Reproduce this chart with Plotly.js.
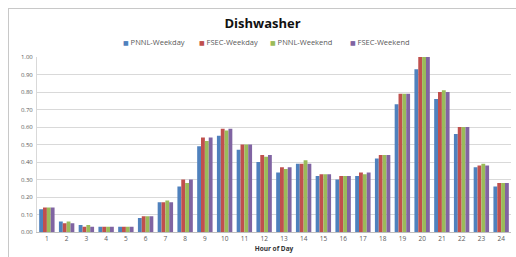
<!DOCTYPE html>
<html><head><meta charset="utf-8">
<script src="https://cdn.plot.ly/plotly-3.0.1.min.js"></script>
<style>
html,body{margin:0;padding:0;background:#fff;width:516px;height:257px;overflow:hidden}
#wrap{position:absolute;left:8px;top:8px;width:507px;height:249px;border-left:1px solid #c8c8c8;border-top:1px solid #c8c8c8}
#chart{width:507px;height:249px}
</style></head>
<body><div id="wrap"><div id="chart"></div></div>
<script>
const hours = ['1','2','3','4','5','6','7','8','9','10','11','12','13','14','15','16','17','18','19','20','21','22','23','24'];
const seriesNames = ['PNNL-Weekday','FSEC-Weekday','PNNL-Weekend','FSEC-Weekend'];
const pnnlWeekday = [0.13,0.06,0.04,0.03,0.03,0.08,0.17,0.26,0.49,0.55,0.47,0.40,0.34,0.39,0.32,0.30,0.32,0.42,0.73,0.93,0.76,0.56,0.37,0.26];
const fsecWeekday = [0.14,0.05,0.03,0.03,0.03,0.09,0.17,0.30,0.54,0.59,0.50,0.44,0.37,0.39,0.33,0.32,0.34,0.44,0.79,1.00,0.80,0.60,0.38,0.28];
const pnnlWeekend = [0.14,0.06,0.04,0.03,0.03,0.09,0.18,0.28,0.52,0.58,0.50,0.43,0.36,0.41,0.33,0.32,0.33,0.44,0.79,1.00,0.81,0.60,0.39,0.28];
const fsecWeekend = [0.14,0.05,0.03,0.03,0.03,0.09,0.17,0.30,0.54,0.59,0.50,0.44,0.37,0.39,0.33,0.32,0.34,0.44,0.79,1.00,0.80,0.60,0.38,0.28];
const yTicks = [0,0.1,0.2,0.3,0.4,0.5,0.6,0.7,0.8,0.9,1.0];
const colors = ['#4F81BD','#C0504D','#9BBB59','#8064A2'];
const allSeries = [pnnlWeekday,fsecWeekday,pnnlWeekend,fsecWeekend];
const legendX = [0.177,0.338,0.487,0.656];

const traces = allSeries.map((v,i)=>({
  type:'bar', x:hours, y:v, name:seriesNames[i],
  marker:{color:colors[i]}
}));

const font = "'Open Sans', 'Liberation Sans', sans-serif";
const annotations = seriesNames.map((n,i)=>({
  xref:'paper', yref:'paper', x:legendX[i], y:1.086, xanchor:'left', yanchor:'middle',
  showarrow:false,
  text:'<span style="color:'+colors[i]+';font-size:6px;font-family:DejaVu Sans">■</span> '+n,
  font:{family:font, size:7.5, color:'#595959'}
}));

const layout = {
  width:507, height:249,
  margin:{l:28,r:5,t:48,b:26},
  paper_bgcolor:'#fff', plot_bgcolor:'#fff',
  font:{family:font, color:'#595959', size:6},
  title:{text:'<b>Dishwasher</b>', font:{family:font, size:13, color:'#111'}, x:0.5, xanchor:'center', y:0.94, yanchor:'middle'},
  barmode:'group', bargap:0.22, bargroupgap:0,
  showlegend:false,
  annotations:annotations,
  xaxis:{type:'category', tickfont:{size:6.5,color:'#595959'}, ticks:'', 
    showline:true, linecolor:'#bfbfbf', linewidth:1, showgrid:false,
    title:{text:'<b>Hour of Day</b>', font:{family:font,size:6.5,color:'#333'}, standoff:4}},
  yaxis:{range:[0,1.0], tickvals:yTicks, tickformat:'.2f', tickfont:{size:6,color:'#595959'},
    showgrid:true, gridcolor:'#d9d9d9', gridwidth:1, zeroline:false,
    showline:true, linecolor:'#d9d9d9', ticks:'', ticklabelstandoff:2}
};
Plotly.newPlot('chart', traces, layout, {staticPlot:true, displayModeBar:false});
</script></body></html>
